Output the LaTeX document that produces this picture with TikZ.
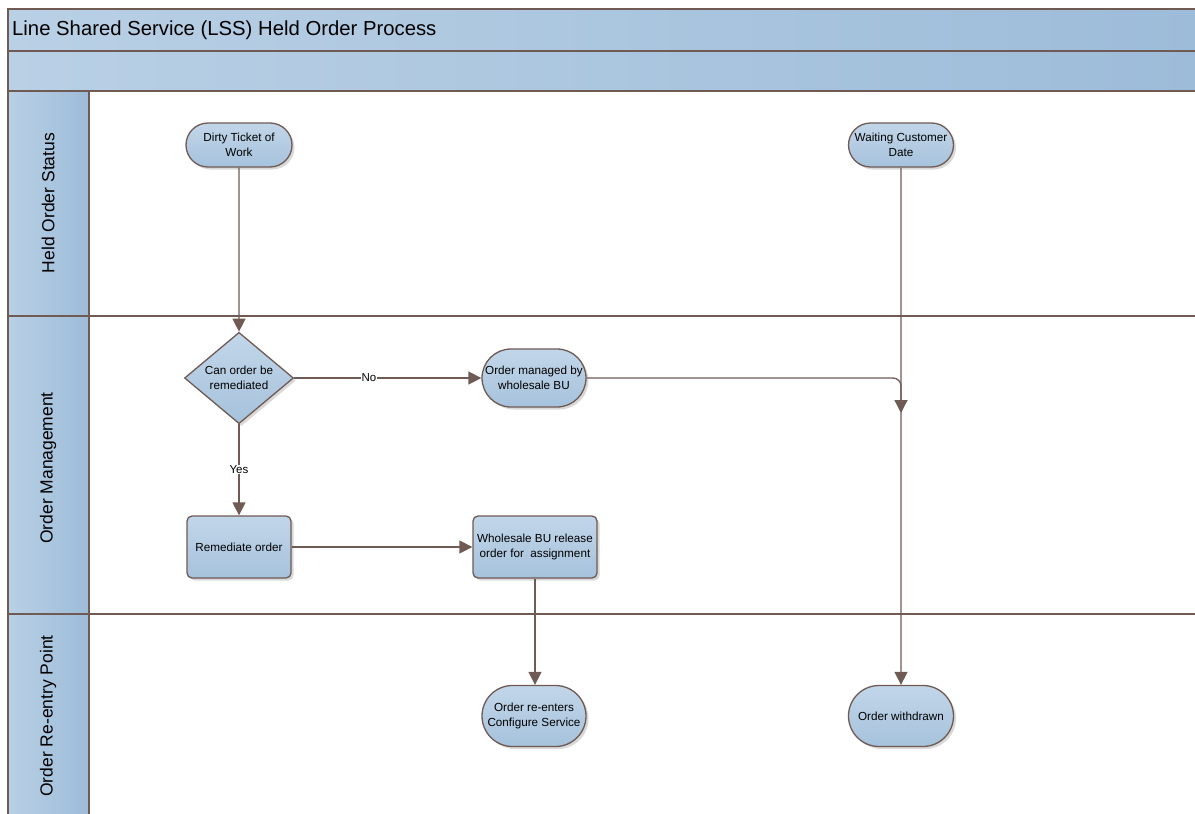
\documentclass[tikz,border=0pt]{standalone}
\usepackage{fontspec}
\setmainfont{Liberation Sans}
\usetikzlibrary{shapes.geometric,shapes.misc,arrows.meta,shadows}
\definecolor{edgec}{HTML}{6F5A54}
\definecolor{nodeA}{HTML}{C2D6E9}
\definecolor{nodeB}{HTML}{A6C2DC}
\definecolor{laneA}{HTML}{B9D0E5}
\definecolor{laneB}{HTML}{9DBCD9}
\tikzset{
  nodefont/.style={font=\fontsize{11.7}{14.5}\selectfont},
  base/.style={draw=edgec, line width=1.3pt, top color=nodeA, bottom color=nodeB,
    nodefont, align=center, inner sep=1pt,
    drop shadow={shadow xshift=2.5pt, shadow yshift=-2.5pt, fill=black!25, opacity=0.6}},
  term/.style={base, rounded rectangle},
  proc/.style={base, rectangle, rounded corners=5pt},
  decision/.style={base, diamond, inner sep=0pt},
  arr/.style={draw=edgec, line width=1.3pt, -{Triangle[length=13pt,width=13pt]}},
  lbl/.style={fill=white, inner sep=0.5pt, font=\fontsize{11.5}{13}\selectfont},
  hdr/.style={draw=edgec, line width=1.3pt, left color=laneA, right color=laneB},
  lanefont/.style={font=\fontsize{17.5}{20}\selectfont},
}
\begin{document}
\begin{tikzpicture}[x=1pt,y=-1pt]
\useasboundingbox (0,0) rectangle (1195,814);
\clip (0,0) rectangle (1195,814);
% title bar and band
\path[hdr] (8,9) rectangle (1200,51);
\path[hdr] (8,51) rectangle (1200,91);
\node[anchor=west, font=\fontsize{20.3}{22}\selectfont, inner sep=0pt] (title) at (12,30) {Line Shared Service (LSS) Held Order Process};
% lanes
\path[hdr] (8,91) rectangle (89,316);
\path[hdr] (8,316) rectangle (89,614);
\path[hdr] (8,614) rectangle (89,830);
\draw[edgec, line width=1.3pt] (89,91) -- (1200,91);
\draw[edgec, line width=1.3pt] (89,316) -- (1200,316);
\draw[edgec, line width=1.3pt] (89,614) -- (1200,614);
\node[lanefont, rotate=90] (l1) at (48,203) {Held Order Status};
\node[lanefont, rotate=90] (l2) at (48,468) {Order Management};
\node[lanefont, rotate=90] (l3) at (48,716) {Order Re-entry Point};
% nodes
\node[term, minimum width=108pt, minimum height=44pt] (dirty) at (239,145) {Dirty Ticket of\\Work};
\node[term, minimum width=107pt, minimum height=44pt] (wait) at (901,145) {Waiting Customer\\Date};
\node[decision, minimum width=109pt, minimum height=73pt] (dia) at (239,378) {Can order be\\remediated};
\node[term, minimum width=106pt, minimum height=58pt] (mgd) at (534,378) {Order managed by\\wholesale BU};
\node[proc, minimum width=104pt, minimum height=62pt] (rem) at (239,547) {Remediate order};
\node[proc, minimum width=124pt, minimum height=62pt] (whr) at (535,547) {Wholesale BU release\\order for\ \ assignment};
\node[term, minimum width=106pt, minimum height=61pt] (reent) at (534,716) {Order re-enters\\Configure Service};
\node[term, minimum width=107pt, minimum height=61pt] (wd) at (901,716) {Order withdrawn};
\coordinate (join) at (901,413);
% connectors
\draw[arr] (dirty) -- (dia);
\draw[arr] (dia) -- node[lbl, pos=0.4] {No} (mgd);
\draw[arr] (dia) -- node[lbl] {Yes} (rem);
\draw[arr] (rem) -- (whr);
\draw[arr] (whr.south) -- (whr.south |- reent.north);
\draw[arr] (wait) -- (wd);
\draw[arr, rounded corners=8pt] (mgd.east) -- (mgd.east -| join) -- (join);
\end{tikzpicture}
\end{document}
